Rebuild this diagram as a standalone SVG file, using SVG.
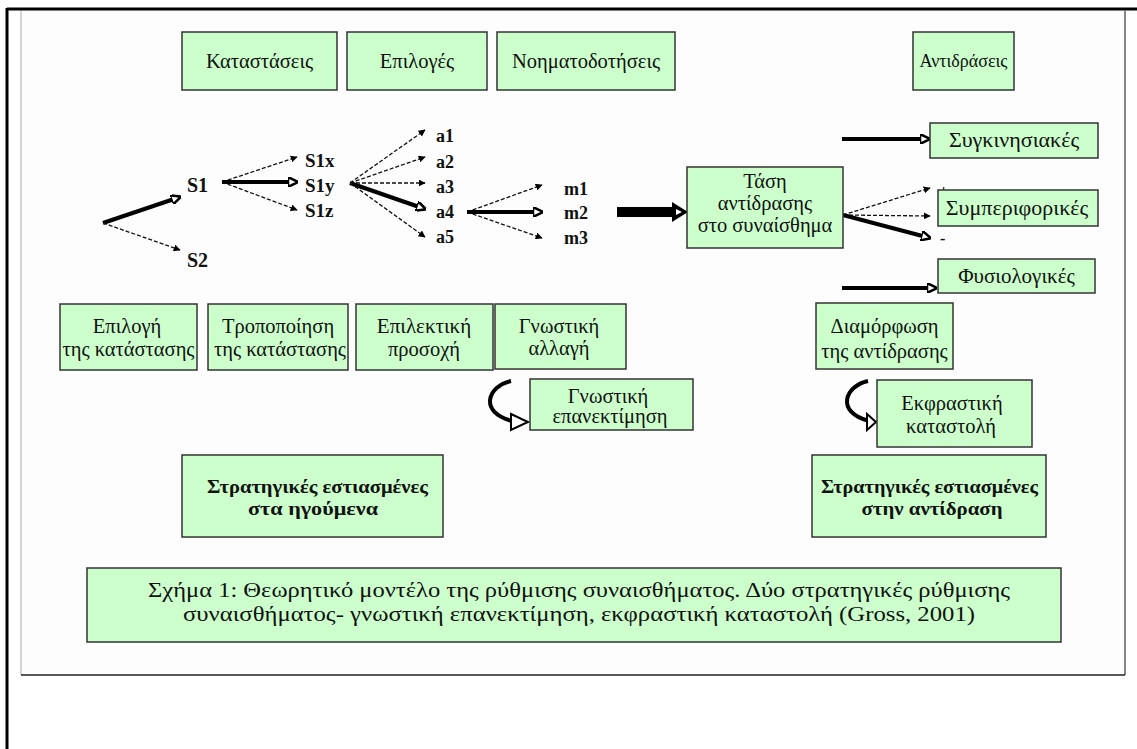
<svg xmlns="http://www.w3.org/2000/svg" width="1137" height="749" viewBox="0 0 1137 749">
<style>
.box{fill:#ccffcc;stroke:#333;stroke-width:1.5}
text{font-family:"Liberation Serif","DejaVu Serif","Times New Roman",serif}
.t{font-size:20.5px;fill:#111;text-anchor:middle}
.tr{font-size:22px;fill:#111;text-anchor:middle}
.tb{font-size:19px;font-weight:bold;fill:#111;text-anchor:middle}
.cap{font-size:21px;fill:#111;text-anchor:middle}
.lab{font-weight:bold;fill:#111}
.dash{stroke:#111;stroke-width:1.3;stroke-dasharray:4 2;fill:none;marker-end:url(#ah)}
.thick{stroke:#000;stroke-width:4;fill:none;marker-end:url(#ahb)}
</style>
<defs>
<marker id="ah" viewBox="0 0 10 10" refX="9" refY="5" markerWidth="7" markerHeight="7" markerUnits="userSpaceOnUse" orient="auto"><path d="M0,0 L10,5 L0,10 z" fill="#000"/></marker>
<marker id="ahb" viewBox="0 0 10 10" refX="9" refY="5" markerWidth="2.5" markerHeight="2.5" orient="auto"><path d="M0,0 L10,5 L0,10 z" fill="#fff" stroke="#000" stroke-width="2.5"/></marker>
</defs>
<rect x="0" y="0" width="1137" height="749" fill="#fff"/>
<rect x="21" y="11" width="1104" height="664" fill="#fdfdfd"/>
<g id="frame">
<line x1="21" y1="11" x2="21" y2="675" stroke="#aaa" stroke-width="1"/>
<line x1="1125" y1="11" x2="1125" y2="675" stroke="#111" stroke-width="1"/>
<line x1="21" y1="675" x2="1125" y2="675" stroke="#222" stroke-width="1.5"/>
<line x1="7" y1="9" x2="1137" y2="9" stroke="#000" stroke-width="3"/>
<line x1="7" y1="8" x2="7" y2="749" stroke="#000" stroke-width="3"/>
</g>
<g id="connectors">
<line class="thick" x1="103" y1="223" x2="180" y2="197"/>
<line class="dash" x1="103" y1="223" x2="180" y2="250"/>
<line class="dash" x1="222" y1="182" x2="297" y2="157"/>
<line class="thick" x1="222" y1="182" x2="297" y2="182"/>
<line class="dash" x1="222" y1="182" x2="297" y2="210"/>
<line class="dash" x1="350" y1="183" x2="425" y2="130"/>
<line class="dash" x1="350" y1="183" x2="425" y2="157"/>
<line class="dash" x1="350" y1="183" x2="425" y2="183"/>
<line class="thick" x1="350" y1="183" x2="425" y2="209"/>
<line class="dash" x1="350" y1="183" x2="425" y2="237"/>
<line class="dash" x1="467" y1="212" x2="542" y2="185"/>
<line class="thick" x1="467" y1="212" x2="542" y2="212"/>
<line class="dash" x1="467" y1="212" x2="542" y2="238"/>
<rect x="617" y="207" width="56" height="10" fill="#000"/>
<path d="M672,202 L688,212 L672,222 z" fill="#000"/>
<path d="M676,209 L682,212 L676,215 z" fill="#fff"/>
<line class="thick" x1="842" y1="139" x2="929" y2="139"/>
<line class="dash" x1="843" y1="215" x2="930" y2="188"/>
<line class="dash" x1="843" y1="215" x2="930" y2="216"/>
<line class="thick" x1="843" y1="215" x2="930" y2="238"/>
<line class="thick" x1="842" y1="288" x2="936" y2="288"/>
<path d="M511,381 C488,386 478,412 512,421" fill="none" stroke="#000" stroke-width="4"/>
<path d="M511,414 L528,422 L511,430 z" fill="#fff" stroke="#000" stroke-width="2"/>
<path d="M868,381 C845,386 835,412 869,421" fill="none" stroke="#000" stroke-width="4"/>
<path d="M867,414 L876,422 L867,430 z" fill="#fff" stroke="#000" stroke-width="2"/>
</g>
<g id="tree-labels">
<text class="lab" x="187" y="192" font-size="20">S1</text>
<text class="lab" x="187" y="267" font-size="20">S2</text>
<text class="lab" x="305" y="167" font-size="19">S1x</text>
<text class="lab" x="305" y="192" font-size="19">S1y</text>
<text class="lab" x="305" y="217" font-size="19">S1z</text>
<text class="lab" x="436" y="142" font-size="18">a1</text>
<text class="lab" x="436" y="168" font-size="18">a2</text>
<text class="lab" x="436" y="193" font-size="18">a3</text>
<text class="lab" x="436" y="218" font-size="18">a4</text>
<text class="lab" x="436" y="243" font-size="18">a5</text>
<text class="lab" x="564" y="195" font-size="18">m1</text>
<text class="lab" x="564" y="219" font-size="18">m2</text>
<text class="lab" x="564" y="244" font-size="18">m3</text>
<text class="lab" x="939" y="197" font-size="16">+</text>
<text class="lab" x="940" y="244" font-size="16">-</text>
</g>
<g id="n-katastaseis"><rect class="box" x="182" y="32" width="155" height="58"/><text class="t" x="259.5" y="68">Καταστάσεις</text></g>
<g id="n-epiloges"><rect class="box" x="347" y="32" width="140" height="58"/><text class="t" x="417" y="68">Επιλογές</text></g>
<g id="n-noimatodotiseis"><rect class="box" x="497" y="32" width="178" height="58"/><text class="t" x="586" y="68">Νοηματοδοτήσεις</text></g>
<g id="n-antidraseis"><rect class="box" x="913" y="32" width="101" height="58"/><text class="t" x="963.5" y="67" style="font-size:18px">Αντιδράσεις</text></g>
<g id="n-tasi"><rect class="box" x="687" y="167" width="156" height="81"/><text class="t" x="765" y="188">Τάση</text><text class="t" x="765" y="210">αντίδρασης</text><text class="t" x="765" y="232">στο συναίσθημα</text></g>
<g id="n-sygkinisiakes"><rect class="box" x="930" y="123" width="168" height="35"/><text class="tr" x="1014" y="147">Συγκινησιακές</text></g>
<g id="n-symperiforikes"><rect class="box" x="938" y="190" width="160" height="36"/><text class="tr" x="1017" y="215">Συμπεριφορικές</text></g>
<g id="n-fysiologikes"><rect class="box" x="938" y="259" width="157" height="34"/><text class="t" x="1016.5" y="283" style="font-size:21px">Φυσιολογικές</text></g>
<g id="n-epilogi"><rect class="box" x="60" y="304" width="137" height="66"/><text class="t" x="127" y="333">Επιλογή</text><text class="t" x="128.5" y="356">της κατάστασης</text></g>
<g id="n-tropopoiisi"><rect class="box" x="208" y="304" width="140" height="66"/><text class="t" x="278" y="333">Τροποποίηση</text><text class="t" x="280" y="356">της κατάστασης</text></g>
<g id="n-epilektiki"><rect class="box" x="356" y="304" width="137" height="66"/><text class="t" x="424" y="333" style="font-size:21px">Επιλεκτική</text><text class="t" x="424" y="356">προσοχή</text></g>
<g id="n-gnostiki-allagi"><rect class="box" x="495" y="304" width="131" height="65"/><text class="t" x="559" y="333">Γνωστική</text><text class="t" x="559" y="355">αλλαγή</text></g>
<g id="n-epanektimisi"><rect class="box" x="530" y="379" width="163" height="51"/><text class="t" x="608" y="403">Γνωστική</text><text class="t" x="610" y="423">επανεκτίμηση</text></g>
<g id="n-diamorfosi"><rect class="box" x="816" y="303" width="137" height="66"/><text class="t" x="884.5" y="333">Διαμόρφωση</text><text class="t" x="884.5" y="358">της αντίδρασης</text></g>
<g id="n-katastoli"><rect class="box" x="877" y="380" width="155" height="67"/><text class="t" x="952" y="410">Εκφραστική</text><text class="t" x="951" y="433">καταστολή</text></g>
<g id="n-strat-left"><rect class="box" x="182" y="455" width="261" height="82"/><text class="tb" x="317.5" y="493" textLength="221" lengthAdjust="spacingAndGlyphs">Στρατηγικές εστιασμένες</text><text class="tb" x="313" y="515" textLength="130" lengthAdjust="spacingAndGlyphs">στα ηγούμενα</text></g>
<g id="n-strat-right"><rect class="box" x="812" y="455" width="234" height="82"/><text class="tb" x="929.5" y="493" textLength="217" lengthAdjust="spacingAndGlyphs">Στρατηγικές εστιασμένες</text><text class="tb" x="932" y="515" textLength="141" lengthAdjust="spacingAndGlyphs">στην αντίδραση</text></g>
<g id="n-caption"><rect class="box" x="87" y="568" width="974" height="74"/><text class="cap" x="579" y="597" textLength="862" lengthAdjust="spacingAndGlyphs">Σχήμα 1: Θεωρητικό μοντέλο της ρύθμισης συναισθήματος. Δύο στρατηγικές ρύθμισης</text><text class="cap" x="579" y="621" textLength="792" lengthAdjust="spacingAndGlyphs">συναισθήματος- γνωστική επανεκτίμηση, εκφραστική καταστολή (Gross, 2001)</text></g>
</svg>
